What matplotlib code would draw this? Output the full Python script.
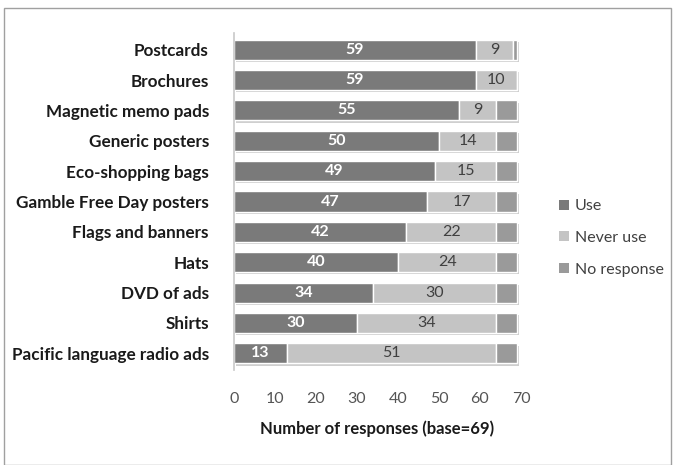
import matplotlib
matplotlib.use("Agg")
import matplotlib.pyplot as plt
import matplotlib.patheffects as pe
from matplotlib.patches import Rectangle, Patch

plt.rcParams['font.family'] = ['Lato', 'DejaVu Sans']

categories = ["Postcards", "Brochures", "Magnetic memo pads", "Generic posters",
              "Eco-shopping bags", "Gamble Free Day posters", "Flags and banners",
              "Hats", "DVD of ads", "Shirts", "Pacific language radio ads"]
use = [59, 59, 55, 50, 49, 47, 42, 40, 34, 30, 13]
never_use = [9, 10, 9, 14, 15, 17, 22, 24, 30, 34, 51]
no_response = [1, 0, 5, 5, 5, 5, 5, 5, 5, 5, 5]
series_names = ["Use", "Never use", "No response"]
xticks = [0, 10, 20, 30, 40, 50, 60, 70]

colors = ["#7a7a7a", "#c4c4c4", "#9a9a9a"]

fig = plt.figure(figsize=(6.77, 4.65), dpi=100)
fig.patches.append(Rectangle((4/677, 0), 667/677, 457/465, transform=fig.transFigure,
                             fill=False, edgecolor="#a0a0a0", linewidth=1.0))
ax = fig.add_axes([234/677, 1 - 370/465, (521 - 234)/677, (370 - 33)/465])

y = list(range(len(categories)))
shadow = [pe.SimplePatchShadow(offset=(1.2, -1.6), shadow_rgbFace="#b0b0b0", alpha=0.6), pe.Normal()]
left = [0]*len(categories)
for vals, col, name in zip([use, never_use, no_response], colors, series_names):
    bars = ax.barh(y, vals, left=left, height=0.66, color=col, edgecolor="white",
                   linewidth=1.0, label=name)
    for b in bars:
        b.set_path_effects(shadow)
    left = [l + v for l, v in zip(left, vals)]

for i in y:
    ax.text(use[i]/2, i, str(use[i]), ha="center", va="center", color="white",
            fontsize=11.5, fontweight="bold")
    ax.text(use[i] + never_use[i]/2, i, str(never_use[i]), ha="center", va="center",
            color="#404040", fontsize=11.5)

ax.set_yticks(y)
ax.set_yticklabels(categories, fontsize=12.3, fontweight="bold", color="#1a1a1a")
ax.invert_yaxis()
ax.set_ylim(len(categories) - 0.45, -0.55)
ax.set_xlim(0, 70)
ax.set_xticks(xticks)
ax.set_xticklabels([str(t) for t in xticks], fontsize=11.5, color="#555555")
ax.tick_params(axis="x", length=0, pad=16)
ax.tick_params(axis="y", length=0, pad=18)
for s in ["top", "right", "bottom"]:
    ax.spines[s].set_visible(False)
ax.spines["left"].set_color("#c8c8c8")
ax.spines["left"].set_linewidth(1.2)
ax.set_xlabel("Number of responses (base=69)", fontsize=12, fontweight="bold",
              color="#1a1a1a", labelpad=10)

handles = [Patch(facecolor=c, edgecolor="none") for c in colors]
fig.legend(handles, series_names, loc="center left", bbox_to_anchor=(545/677, 1 - 238/465),
           frameon=False, fontsize=11.5, labelcolor="#404040", handlelength=0.6,
           handleheight=0.6, handletextpad=0.35, labelspacing=1.1)

fig.savefig("out.png", dpi=100, facecolor="white")
